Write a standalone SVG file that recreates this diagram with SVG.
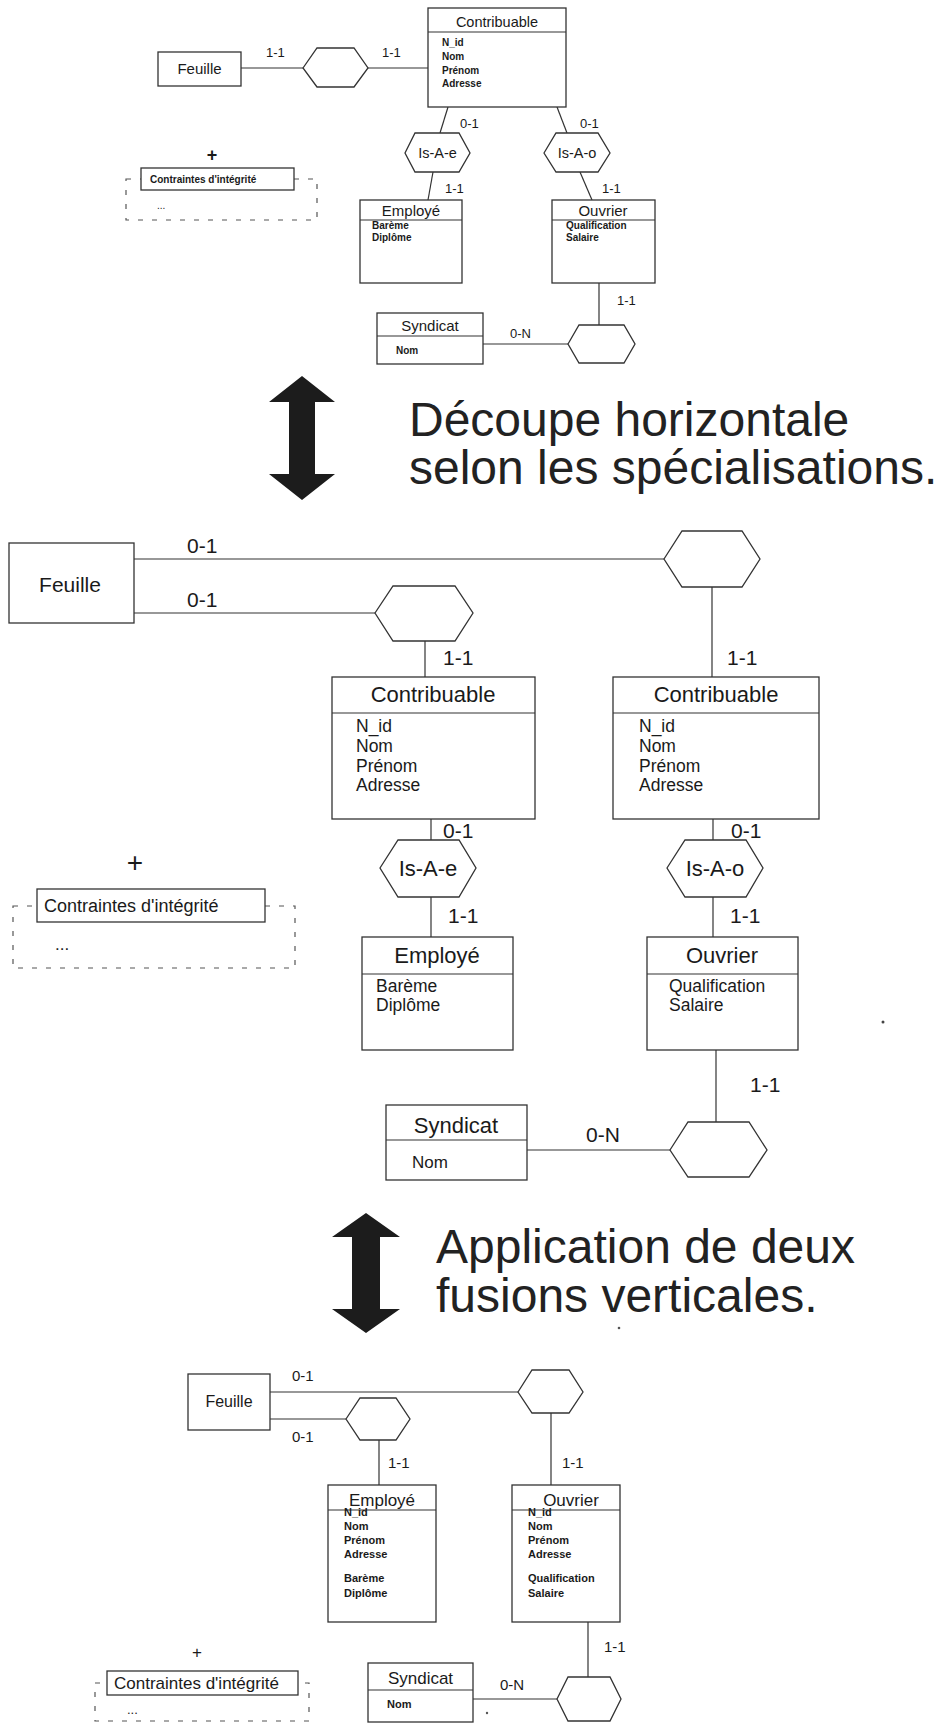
<svg xmlns="http://www.w3.org/2000/svg" width="940" height="1724" viewBox="0 0 940 1724">
<style>
.bg{fill:#fff}
.box{fill:#fff;stroke:#333;stroke-width:1.3}
.ln{stroke:#333;stroke-width:1.2;fill:none}
.dash{stroke:#555;stroke-width:1.2;fill:none;stroke-dasharray:5 9}
.t{font-family:"Liberation Sans",Arial,Helvetica,sans-serif;fill:#1a1a1a}
.m{text-anchor:middle}
.ab{font-weight:bold}
.arrow{fill:#1c1c1c}
.big{font-family:"Liberation Sans",Arial,Helvetica,sans-serif;fill:#222;font-size:48px}
</style>
<rect class="bg" x="0" y="0" width="940" height="1724"/>

<!-- ================= CONNECTORS ================= -->
<g id="connectors">
  <!-- top -->
  <line class="ln" x1="241" y1="68" x2="303" y2="68"/>
  <line class="ln" x1="368" y1="68" x2="428" y2="68"/>
  <line class="ln" x1="448" y1="107" x2="440" y2="133"/>
  <line class="ln" x1="433" y1="172" x2="428" y2="200"/>
  <line class="ln" x1="557" y1="107" x2="567" y2="133"/>
  <line class="ln" x1="580" y1="172" x2="592" y2="200"/>
  <line class="ln" x1="599" y1="283" x2="599" y2="325"/>
  <line class="ln" x1="483" y1="344" x2="568" y2="344"/>
  <g class="t" font-size="13">
    <text x="266" y="57">1-1</text>
    <text x="382" y="57">1-1</text>
    <text x="460" y="128">0-1</text>
    <text x="445" y="193">1-1</text>
    <text x="580" y="128">0-1</text>
    <text x="602" y="193">1-1</text>
    <text x="617" y="305">1-1</text>
    <text x="510" y="338">0-N</text>
  </g>
  <!-- middle -->
  <line class="ln" x1="134" y1="559" x2="664" y2="559"/>
  <line class="ln" x1="134" y1="613" x2="375" y2="613"/>
  <line class="ln" x1="425" y1="641" x2="425" y2="677"/>
  <line class="ln" x1="712" y1="587" x2="712" y2="677"/>
  <line class="ln" x1="431" y1="819" x2="431" y2="840"/>
  <line class="ln" x1="431" y1="897" x2="431" y2="937"/>
  <line class="ln" x1="713" y1="819" x2="713" y2="840"/>
  <line class="ln" x1="713" y1="897" x2="713" y2="937"/>
  <line class="ln" x1="716" y1="1050" x2="716" y2="1122"/>
  <line class="ln" x1="527" y1="1150" x2="670" y2="1150"/>
  <g class="t" font-size="21">
    <text x="187" y="553">0-1</text>
    <text x="187" y="607">0-1</text>
    <text x="443" y="665">1-1</text>
    <text x="727" y="665">1-1</text>
    <text x="443" y="838">0-1</text>
    <text x="731" y="838">0-1</text>
    <text x="448" y="923">1-1</text>
    <text x="730" y="923">1-1</text>
    <text x="750" y="1092">1-1</text>
    <text x="586" y="1142">0-N</text>
  </g>
  <!-- bottom -->
  <line class="ln" x1="270" y1="1392" x2="518" y2="1392"/>
  <line class="ln" x1="270" y1="1419" x2="346" y2="1419"/>
  <line class="ln" x1="379" y1="1440" x2="379" y2="1485"/>
  <line class="ln" x1="551" y1="1413" x2="551" y2="1485"/>
  <line class="ln" x1="588" y1="1622" x2="588" y2="1677"/>
  <line class="ln" x1="473" y1="1699" x2="557" y2="1699"/>
  <g class="t" font-size="15">
    <text x="292" y="1381">0-1</text>
    <text x="292" y="1442">0-1</text>
    <text x="388" y="1468">1-1</text>
    <text x="562" y="1468">1-1</text>
    <text x="604" y="1652">1-1</text>
    <text x="500" y="1690">0-N</text>
  </g>
</g>

<!-- ================= TOP SECTION ================= -->
<g id="t-feuille">
  <rect class="box" x="158" y="52" width="83" height="34"/>
  <text class="t m" x="199.5" y="74" font-size="15">Feuille</text>
</g>
<g id="t-rel-feuille">
  <polygon class="box" points="303,68 317,48 354,48 368,68 354,87 317,87"/>
</g>
<g id="t-contribuable">
  <rect class="box" x="428" y="8" width="138" height="99"/>
  <line class="ln" x1="428" y1="32" x2="566" y2="32"/>
  <text class="t m" x="497" y="27" font-size="14.5">Contribuable</text>
  <g class="t ab" font-size="10">
    <text x="442" y="46">N_id</text>
    <text x="442" y="60">Nom</text>
    <text x="442" y="74">Prénom</text>
    <text x="442" y="87">Adresse</text>
  </g>
</g>
<g id="t-isae">
  <polygon class="box" points="405,153 415,133 459,133 470,153 459,172 415,172"/>
  <text class="t m" x="437.5" y="158" font-size="14.5">Is-A-e</text>
</g>
<g id="t-isao">
  <polygon class="box" points="544,153 556,133 598,133 610,153 598,172 556,172"/>
  <text class="t m" x="577" y="158" font-size="14.5">Is-A-o</text>
</g>
<g id="t-employe">
  <rect class="box" x="360" y="200" width="102" height="83"/>
  <line class="ln" x1="360" y1="220" x2="462" y2="220"/>
  <text class="t m" x="411" y="216" font-size="15">Employé</text>
  <g class="t ab" font-size="10">
    <text x="372" y="229">Barème</text>
    <text x="372" y="241">Diplôme</text>
  </g>
</g>
<g id="t-ouvrier">
  <rect class="box" x="552" y="200" width="103" height="83"/>
  <line class="ln" x1="552" y1="220" x2="655" y2="220"/>
  <text class="t m" x="603" y="216" font-size="15">Ouvrier</text>
  <g class="t ab" font-size="10">
    <text x="566" y="229">Qualification</text>
    <text x="566" y="241">Salaire</text>
  </g>
</g>
<g id="t-rel-syndicat">
  <polygon class="box" points="568,344 579,325 624,325 635,344 624,363 579,363"/>
</g>
<g id="t-syndicat">
  <rect class="box" x="377" y="313" width="106" height="51"/>
  <line class="ln" x1="377" y1="336" x2="483" y2="336"/>
  <text class="t m" x="430" y="331" font-size="15">Syndicat</text>
  <text class="t ab" x="396" y="354" font-size="10">Nom</text>
</g>
<g id="t-contraintes">
  <text class="t m ab" x="212" y="161" font-size="18">+</text>
  <rect class="dash" x="126" y="179" width="191" height="41"/>
  <rect class="box" x="141" y="168" width="153" height="22"/>
  <text class="t ab" x="150" y="183" font-size="10">Contraintes d'intégrité</text>
  <text class="t" x="157" y="209" font-size="10">...</text>
</g>

<!-- ================= TRANSITION 1 ================= -->
<g id="arrow1">
  <polygon class="arrow" points="302,376 335,402 315,402 315,474 335,474 302,500 269,474 289,474 289,402 269,402"/>
</g>
<g id="caption1">
  <text class="big" x="409" y="436">Découpe horizontale</text>
  <text class="big" x="409" y="484">selon les spécialisations.</text>
</g>

<!-- ================= MIDDLE SECTION ================= -->
<g id="m-feuille">
  <rect class="box" x="9" y="543" width="125" height="80"/>
  <text class="t m" x="70" y="592" font-size="21">Feuille</text>
</g>
<g id="m-rel-1">
  <polygon class="box" points="664,559 682,531 742,531 760,559 742,587 682,587"/>
</g>
<g id="m-rel-2">
  <polygon class="box" points="375,613 393,586 455,586 473,613 455,641 393,641"/>
</g>
<g id="m-contribuable-e">
  <rect class="box" x="332" y="677" width="203" height="142"/>
  <line class="ln" x1="332" y1="713" x2="535" y2="713"/>
  <text class="t m" x="433" y="702" font-size="22">Contribuable</text>
  <g class="t" font-size="17.5">
    <text x="356" y="732">N_id</text>
    <text x="356" y="752">Nom</text>
    <text x="356" y="772">Prénom</text>
    <text x="356" y="791">Adresse</text>
  </g>
</g>
<g id="m-contribuable-o">
  <rect class="box" x="613" y="677" width="206" height="142"/>
  <line class="ln" x1="613" y1="713" x2="819" y2="713"/>
  <text class="t m" x="716" y="702" font-size="22">Contribuable</text>
  <g class="t" font-size="17.5">
    <text x="639" y="732">N_id</text>
    <text x="639" y="752">Nom</text>
    <text x="639" y="772">Prénom</text>
    <text x="639" y="791">Adresse</text>
  </g>
</g>
<g id="m-isae">
  <polygon class="box" points="380,868 398,840 459,840 476,868 459,897 398,897"/>
  <text class="t m" x="428" y="876" font-size="22">Is-A-e</text>
</g>
<g id="m-isao">
  <polygon class="box" points="667,868 685,840 746,840 763,868 746,897 685,897"/>
  <text class="t m" x="715" y="876" font-size="22">Is-A-o</text>
</g>
<g id="m-employe">
  <rect class="box" x="362" y="937" width="151" height="113"/>
  <line class="ln" x1="362" y1="974" x2="513" y2="974"/>
  <text class="t m" x="437" y="963" font-size="22">Employé</text>
  <g class="t" font-size="17.5">
    <text x="376" y="992">Barème</text>
    <text x="376" y="1011">Diplôme</text>
  </g>
</g>
<g id="m-ouvrier">
  <rect class="box" x="647" y="937" width="151" height="113"/>
  <line class="ln" x1="647" y1="974" x2="798" y2="974"/>
  <text class="t m" x="722" y="963" font-size="22">Ouvrier</text>
  <g class="t" font-size="17.5">
    <text x="669" y="992">Qualification</text>
    <text x="669" y="1011">Salaire</text>
  </g>
</g>
<g id="m-rel-syndicat">
  <polygon class="box" points="670,1150 688,1122 749,1122 767,1150 749,1177 688,1177"/>
</g>
<g id="m-syndicat">
  <rect class="box" x="386" y="1105" width="141" height="75"/>
  <line class="ln" x1="386" y1="1140" x2="527" y2="1140"/>
  <text class="t m" x="456" y="1133" font-size="22">Syndicat</text>
  <text class="t" x="412" y="1168" font-size="17">Nom</text>
</g>
<g id="m-contraintes">
  <text class="t m" x="135" y="872" font-size="28">+</text>
  <rect class="dash" x="13" y="906" width="282" height="62"/>
  <rect class="box" x="37" y="889" width="228" height="33"/>
  <text class="t" x="44" y="912" font-size="18">Contraintes d'intégrité</text>
  <text class="t" x="55" y="950" font-size="17">...</text>
</g>
<circle cx="883" cy="1022" r="1.5" fill="#444"/>

<!-- ================= TRANSITION 2 ================= -->
<g id="arrow2">
  <polygon class="arrow" points="366,1213 400,1237 380,1237 380,1309 400,1309 366,1333 332,1309 352,1309 352,1237 332,1237"/>
</g>
<g id="caption2">
  <text class="big" x="436" y="1263">Application de deux</text>
  <text class="big" x="436" y="1312">fusions verticales.</text>
</g>
<circle cx="619" cy="1328" r="1.3" fill="#555"/>

<!-- ================= BOTTOM SECTION ================= -->
<g id="b-feuille">
  <rect class="box" x="188" y="1374" width="82" height="56"/>
  <text class="t m" x="229" y="1407" font-size="16">Feuille</text>
</g>
<g id="b-rel-1">
  <polygon class="box" points="518,1392 532,1370 569,1370 583,1392 569,1413 532,1413"/>
</g>
<g id="b-rel-2">
  <polygon class="box" points="346,1419 360,1398 396,1398 410,1419 396,1440 360,1440"/>
</g>
<g id="b-employe">
  <rect class="box" x="328" y="1485" width="108" height="137"/>
  <line class="ln" x1="328" y1="1510" x2="436" y2="1510"/>
  <text class="t m" x="382" y="1506" font-size="17">Employé</text>
  <g class="t ab" font-size="11">
    <text x="344" y="1516">N_id</text>
    <text x="344" y="1530">Nom</text>
    <text x="344" y="1544">Prénom</text>
    <text x="344" y="1558">Adresse</text>
    <text x="344" y="1582">Barème</text>
    <text x="344" y="1597">Diplôme</text>
  </g>
</g>
<g id="b-ouvrier">
  <rect class="box" x="512" y="1485" width="108" height="137"/>
  <line class="ln" x1="512" y1="1510" x2="620" y2="1510"/>
  <text class="t m" x="571" y="1506" font-size="17">Ouvrier</text>
  <g class="t ab" font-size="11">
    <text x="528" y="1516">N_id</text>
    <text x="528" y="1530">Nom</text>
    <text x="528" y="1544">Prénom</text>
    <text x="528" y="1558">Adresse</text>
    <text x="528" y="1582">Qualification</text>
    <text x="528" y="1597">Salaire</text>
  </g>
</g>
<g id="b-rel-syndicat">
  <polygon class="box" points="557,1699 568,1677 610,1677 621,1699 610,1721 568,1721"/>
</g>
<g id="b-syndicat">
  <rect class="box" x="368" y="1663" width="105" height="59"/>
  <line class="ln" x1="368" y1="1690" x2="473" y2="1690"/>
  <text class="t m" x="420.5" y="1684" font-size="17">Syndicat</text>
  <text class="t ab" x="387" y="1708" font-size="11">Nom</text>
</g>
<g id="b-contraintes">
  <text class="t m" x="197" y="1658" font-size="17">+</text>
  <rect class="dash" x="95" y="1683" width="214" height="38"/>
  <rect class="box" x="107" y="1671" width="191" height="24"/>
  <text class="t" x="114" y="1689" font-size="17">Contraintes d'intégrité</text>
  <text class="t" x="127" y="1714" font-size="13">...</text>
</g>
<circle cx="487" cy="1713" r="1.2" fill="#555"/>
</svg>
